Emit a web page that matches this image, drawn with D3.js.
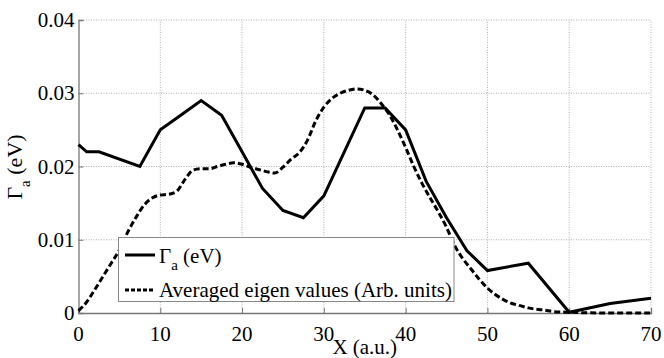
<!DOCTYPE html>
<html><head><meta charset="utf-8">
<script src="https://cdn.jsdelivr.net/npm/d3@7"></script>
<style>body{margin:0;background:#fff}</style>
</head><body><svg id="c" width="664" height="358"></svg>
<script>
const xTicks=[0,10,20,30,40,50,60,70];
const yTicks=[0,0.01,0.02,0.03,0.04];
const yTickLabels=["0","0.01","0.02","0.03","0.04"];
const gammaX=[0,1,2.5,7.5,10,12.5,15,17.5,20,22.5,25,27.5,30,32.5,35,37.5,40,42.5,45,47.5,50,55,60,65,70];
const gammaY=[0.023,0.022,0.022,0.020,0.025,0.027,0.029,0.027,0.022,0.017,0.014,0.013,0.016,0.022,0.028,0.028,0.025,0.018,0.013,0.0085,0.0058,0.0068,0.0001,0.0013,0.002];
const eigX=[0,1,2,3,4,5,6,7,8,9,10,11,12,13,14,15,16,17,18,19,20,21,22,23,24,25,26,27,28,29,30,31,32,33,34,35,36,37,38,39,40,41,42,43,44,45,46,47,48,49,50,51,52,53,54,55,56,57,58,60,65,70];
const eigY=[0.0003,0.0015,0.0032,0.005,0.0068,0.0086,0.011,0.013,0.0147,0.0157,0.0161,0.0162,0.0166,0.0182,0.0195,0.0197,0.0197,0.0200,0.0203,0.0205,0.0203,0.0199,0.0196,0.0193,0.0191,0.0199,0.0210,0.0219,0.0236,0.0262,0.0281,0.0293,0.0300,0.0304,0.0306,0.0304,0.0298,0.0286,0.0271,0.0250,0.0226,0.0200,0.0177,0.0157,0.0138,0.0117,0.0092,0.0074,0.0060,0.0046,0.0034,0.0025,0.0018,0.0013,0.0010,0.0007,0.0005,0.0004,0.0002,0.0001,0,0];
const legendLabels=["Averaged eigen values (Arb. units)"];

const svg=d3.select("#c");
const L=78.5,R=651,T=20,B=313;
const x=d3.scaleLinear().domain([0,70]).range([L,R]);
const y=d3.scaleLinear().domain([0,0.04]).range([B,T]);
const serif=s=>s.attr("font-family","Liberation Serif").style("font-family","Liberation Serif","important");

// grid
const g=svg.append("g");
g.selectAll("line.gx").data(xTicks.slice(1)).join("line")
 .attr("x1",d=>x(d)).attr("x2",d=>x(d)).attr("y1",B).attr("y2",T)
 .attr("stroke","#b0b0b0").attr("stroke-width",1).attr("stroke-dasharray","1,1.5");
g.selectAll("line.gy").data(yTicks.slice(1)).join("line")
 .attr("y1",d=>y(d)).attr("y2",d=>y(d)).attr("x1",L).attr("x2",R)
 .attr("stroke","#b0b0b0").attr("stroke-width",1).attr("stroke-dasharray","1,1.5");

// axes
const xa=svg.append("g").attr("transform",`translate(0,${B})`)
 .call(d3.axisBottom(x).tickValues(xTicks).tickSize(-5).tickFormat(""));
const ya=svg.append("g").attr("transform",`translate(${L},0)`)
 .call(d3.axisLeft(y).tickValues(yTicks).tickSize(-5).tickFormat(""));
[xa,ya].forEach(a=>{a.select(".domain").attr("stroke","#777").attr("stroke-width",1.3);
 a.selectAll(".tick line").attr("stroke","#777");});
svg.selectAll("text.xt").data(xTicks).join("text").attr("class","xt")
 .attr("x",d=>x(d)).attr("y",B+28).attr("text-anchor","middle")
 .attr("font-size",21).text(d=>d).call(serif);
svg.selectAll("text.yt").data(yTicks).join("text").attr("class","yt")
 .attr("x",L-4).attr("y",d=>y(d)+7).attr("text-anchor","end")
 .attr("font-size",21).text((d,i)=>yTickLabels[i]).call(serif);

// lines
const lineG=d3.line().x(d=>x(d[0])).y(d=>y(d[1]));
const lineE=d3.line().x(d=>x(d[0])).y(d=>y(d[1])).curve(d3.curveMonotoneX);
svg.append("path").datum(eigX.map((v,i)=>[v,eigY[i]])).attr("d",lineE)
 .attr("fill","none").attr("stroke","#000").attr("stroke-width",3).attr("stroke-dasharray","6,3");
svg.append("path").datum(gammaX.map((v,i)=>[v,gammaY[i]])).attr("d",lineG)
 .attr("fill","none").attr("stroke","#000").attr("stroke-width",3).attr("stroke-linejoin","miter");

// legend
const lg=svg.append("g");
lg.append("rect").attr("x",118.5).attr("y",237.5).attr("width",335.5).attr("height",64)
 .attr("fill","#fff").attr("stroke","#888").attr("stroke-width",1);
lg.append("line").attr("x1",125).attr("x2",155).attr("y1",255).attr("y2",255).attr("stroke","#000").attr("stroke-width",3);
lg.append("line").attr("x1",125).attr("x2",155).attr("y1",290).attr("y2",290).attr("stroke","#000").attr("stroke-width",3).attr("stroke-dasharray","4,2");
const t1=lg.append("text").attr("x",159).attr("y",263).attr("font-size",21).call(serif);
t1.append("tspan").text("Γ").call(serif);
t1.append("tspan").attr("dy",7).attr("font-size",15).text("a").call(serif);
t1.append("tspan").attr("dy",-7).text(" (eV)").call(serif);
lg.append("text").attr("x",159).attr("y",297).attr("font-size",21).text(legendLabels[0]).call(serif);

// axis labels
svg.append("text").attr("x",x(35)).attr("y",354).attr("text-anchor","middle").attr("font-size",21).text("X (a.u.)").call(serif);
const yl=svg.append("text").attr("transform","translate(22,167) rotate(-90)").attr("text-anchor","middle").attr("font-size",22).call(serif);
yl.append("tspan").text("Γ").call(serif);
yl.append("tspan").attr("dy",8).attr("font-size",15).text("a").call(serif);
yl.append("tspan").attr("dy",-8).text(" (eV)").call(serif);
</script></body></html>
